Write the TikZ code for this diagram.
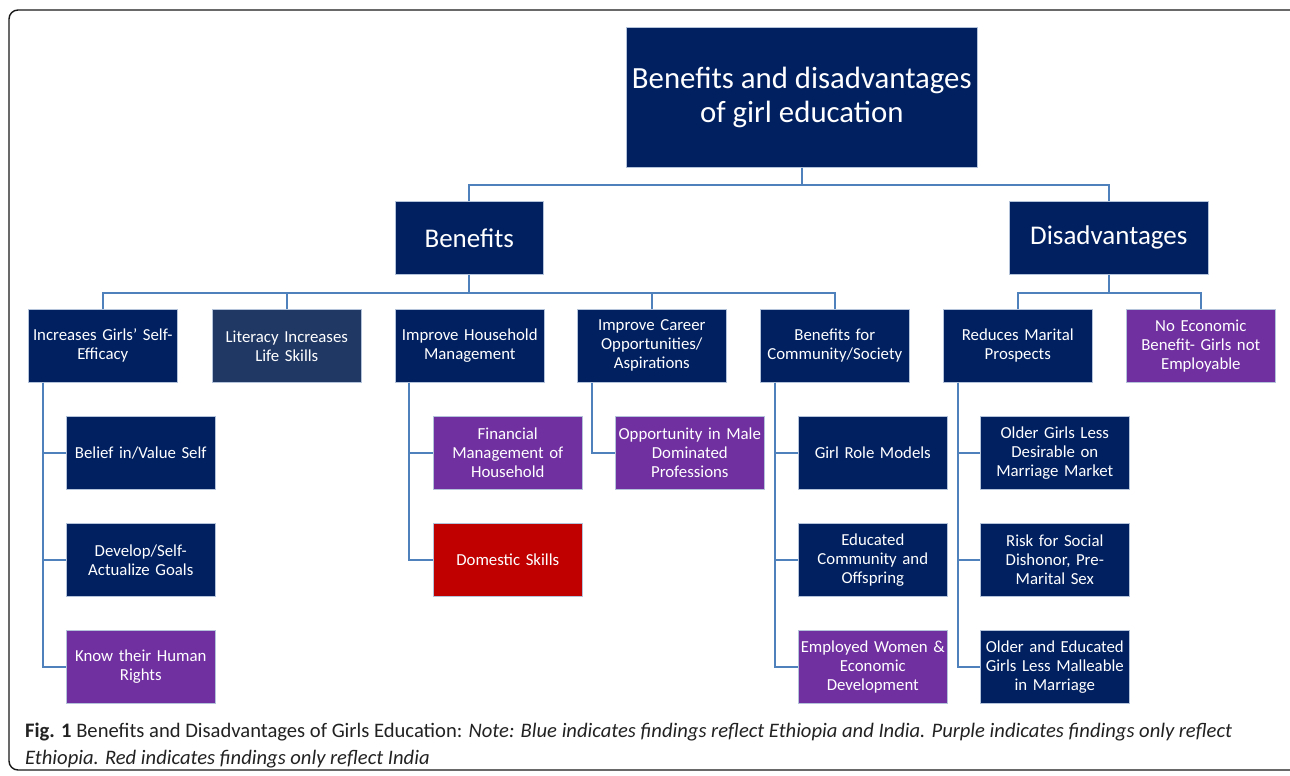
\documentclass[tikz,border=0pt]{standalone}
\usepackage{fontspec}
\setmainfont{Carlito}
\newfontfamily\capfont{Carlito}
\definecolor{navy}{HTML}{002060}
\definecolor{litnavy}{HTML}{203864}
\definecolor{purp}{HTML}{7030A0}
\definecolor{redb}{HTML}{C00000}
\definecolor{connc}{HTML}{4F81BD}
\definecolor{boxline}{HTML}{B4C2DA}
\definecolor{capc}{HTML}{222222}
\tikzset{
  box/.style={draw=boxline, line width=0.6pt, text=white, align=center, anchor=north west, inner sep=1pt},
  lvl/.style={box, minimum width=149pt, minimum height=73pt, text width=147pt, font=\fontsize{16.8}{19}\selectfont},
  nv/.style={lvl, fill=navy},
  pu/.style={lvl, fill=purp},
  rd/.style={lvl, fill=redb},
  lt/.style={lvl, fill=litnavy},
  conn/.style={draw=connc, line width=2pt},
}
\begin{document}
\begin{tikzpicture}[x=1pt,y=-1pt]
\useasboundingbox (0,0) rectangle (1290,776);
\clip (0,0) rectangle (1290,776);
\fill[white] (0,0) rectangle (1290,776);
\draw[line width=1.4pt, rounded corners=9pt, draw=black!90] (9,10) rectangle (1300,770);

% title and level 1
\node[box, fill=navy, minimum width=351pt, minimum height=140pt, font=\fontsize{30.8}{34}\selectfont] (title) at (626,27) {Benefits and disadvantages\\of girl education};
\node[box, fill=navy, minimum width=148pt, minimum height=73pt, font=\fontsize{27}{30}\selectfont] (ben) at (395,201) {Benefits};
\node[box, fill=navy, minimum width=199pt, minimum height=73pt, font=\fontsize{27}{30}\selectfont] (dis) at (1009,201) {Disadvantages};

% level 2
\node[nv] (n1) at (28,309) {Increases Girls’ Self-\\Efficacy};
\node[lt] (n2) at (212,309) {Literacy Increases\\Life Skills};
\node[nv] (n3) at (395,309) {Improve Household\\Management};
\node[nv] (n4) at (577,309) {Improve Career\\Opportunities/\\Aspirations};
\node[nv] (n5) at (760,309) {Benefits for\\Community/Society};
\node[nv] (n6) at (943,309) {Reduces Marital\\Prospects};
\node[pu] (n7) at (1126,309) {No Economic\\Benefit- Girls not\\Employable};

% level 3
\node[nv] (a1) at (66,416) {Belief in/Value Self};
\node[nv] (a2) at (66,523) {Develop/Self-\\Actualize Goals};
\node[pu] (a3) at (66,630) {Know their Human\\Rights};
\node[pu] (b1) at (433,416) {Financial\\Management of\\Household};
\node[rd] (b2) at (433,523) {Domestic Skills};
\node[pu] (c1) at (615,416) {Opportunity in Male\\Dominated\\Professions};
\node[nv] (d1) at (798,416) {Girl Role Models};
\node[nv] (d2) at (798,523) {Educated\\Community and\\Offspring};
\node[pu] (d3) at (798,630) {Employed Women \&\\Economic\\Development};
\node[nv] (e1) at (980,416) {Older Girls Less\\Desirable on\\Marriage Market};
\node[nv] (e2) at (980,523) {Risk for Social\\Dishonor, Pre-\\Marital Sex};
\node[nv] (e3) at (980,630) {Older and Educated\\Girls Less Malleable\\in Marriage};

% connectors
\draw[conn] (title.south) -- ++(0,17) coordinate (bus0);
\draw[conn] (ben.north) |- (bus0) -| (dis.north);
\draw[conn] (ben.south) -- ++(0,18) coordinate (bus1);
\draw[conn] (n1.north) |- (bus1) -| (n5.north);
\draw[conn] (n2.north) -- (n2.north |- bus1);
\draw[conn] (n4.north) -- (n4.north |- bus1);
\draw[conn] (dis.south) -- ++(0,18) coordinate (bus2);
\draw[conn] (n6.north) |- (bus2) -| (n7.north);

\coordinate (s1) at ([xshift=15pt]n1.south west);
\coordinate (s3) at ([xshift=14pt]n3.south west);
\coordinate (s4) at ([xshift=15pt]n4.south west);
\coordinate (s5) at ([xshift=15pt]n5.south west);
\coordinate (s6) at ([xshift=15pt]n6.south west);
\draw[conn] (s1) |- (a1.west);
\draw[conn] (s1) |- (a2.west);
\draw[conn] (s1) |- (a3.west);
\draw[conn] (s3) |- (b1.west);
\draw[conn] (s3) |- (b2.west);
\draw[conn] (s4) |- (c1.west);
\draw[conn] (s5) |- (d1.west);
\draw[conn] (s5) |- (d2.west);
\draw[conn] (s5) |- (d3.west);
\draw[conn] (s6) |- (e1.west);
\draw[conn] (s6) |- (e2.west);
\draw[conn] (s6) |- (e3.west);

% caption
\node[anchor=north west, inner sep=0pt, align=left, text=capc, font=\capfont\fontsize{20.6}{27}\selectfont] (cap) at (25,723) {\textbf{Fig. 1} Benefits and Disadvantages of Girls Education: \textit{Note: Blue indicates findings reflect Ethiopia and India. Purple indicates findings only reflect}\\\textit{Ethiopia. Red indicates findings only reflect India}};
\end{tikzpicture}
\end{document}
